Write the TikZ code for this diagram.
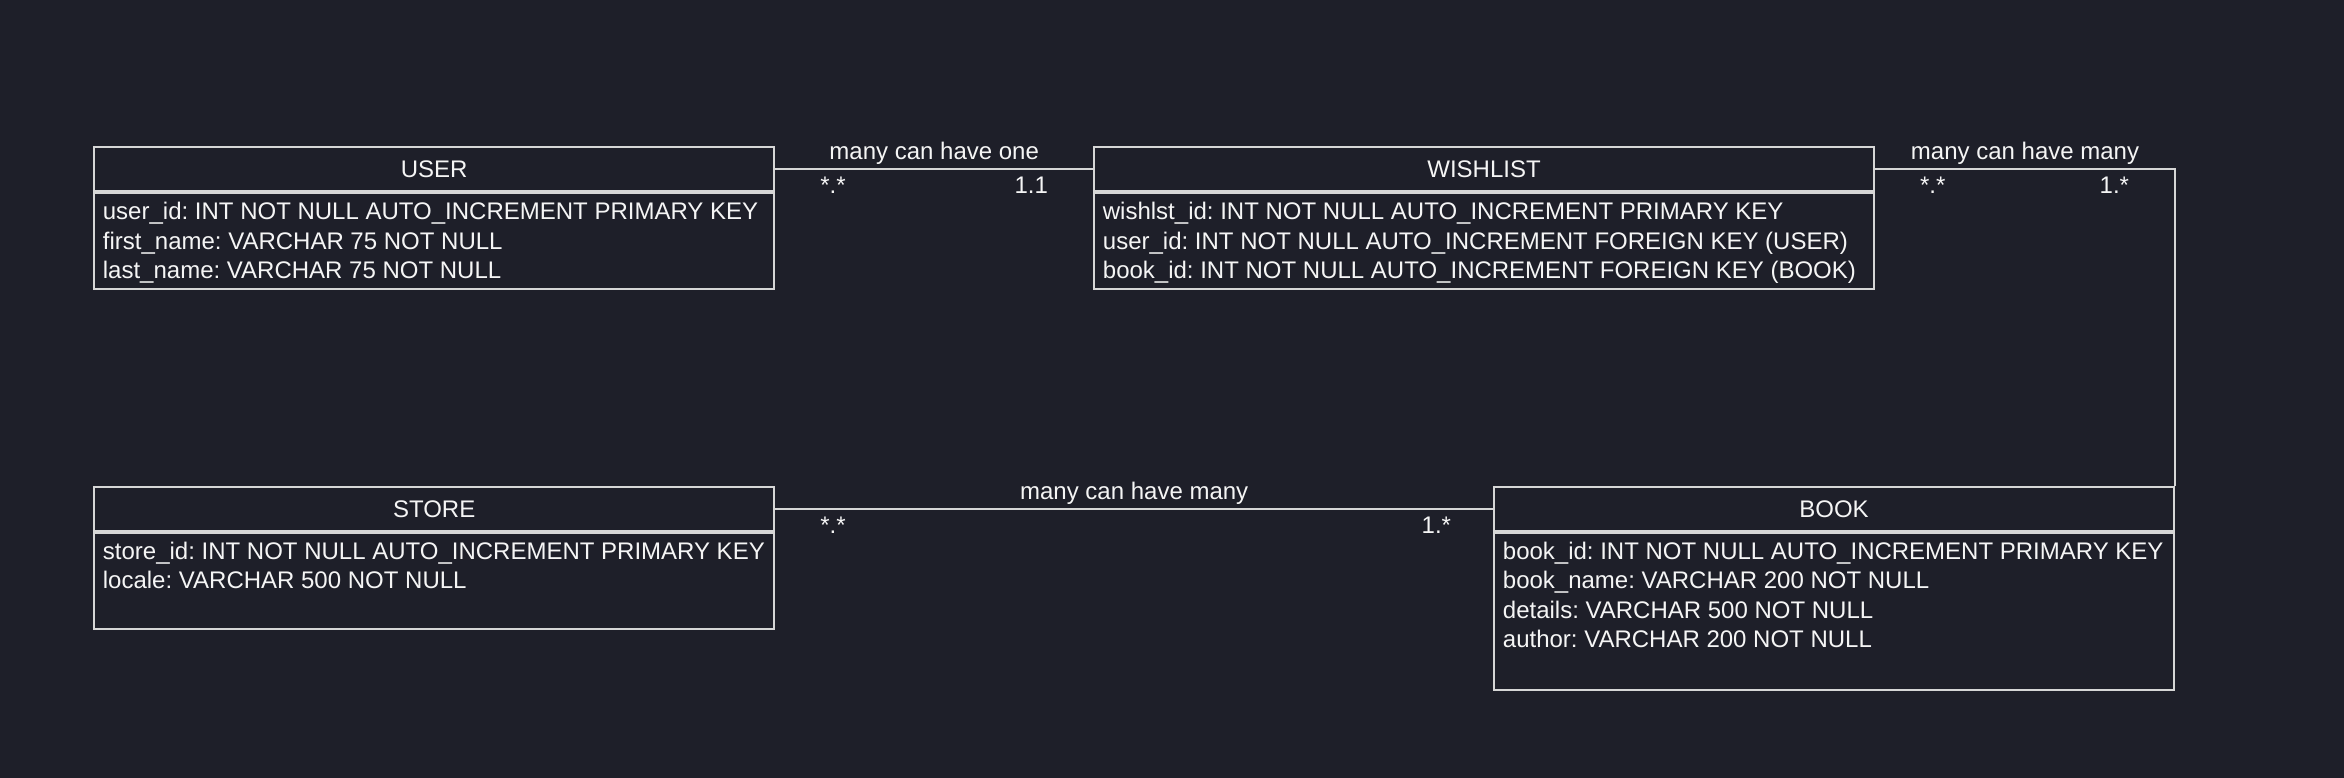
\documentclass[tikz,border=0pt]{standalone}
\usepackage{fontspec}
\setmainfont{Liberation Sans}
\definecolor{bg}{RGB}{30,31,41}
\definecolor{ln}{RGB}{214,214,214}
\definecolor{tx}{RGB}{245,245,245}
\frenchspacing
\begin{document}
\begin{tikzpicture}[x=1pt,y=-1pt,
  font=\fontsize{24}{29.5}\selectfont,
  hdr/.style={draw=ln, line width=2pt, text=tx, minimum height=44.3pt, inner sep=0pt, anchor=north west},
  bodybox/.style={draw=ln, line width=2pt, inner sep=0pt, anchor=north west},
  row/.style={text=tx, inner sep=0pt, anchor=base west},
  conn/.style={draw=ln, line width=2pt},
  lbl/.style={text=tx, inner sep=0pt}]
\fill[bg] (0,0) rectangle (2344,778);
\useasboundingbox (0,0) rectangle (2344,778);
% USER
\node[hdr, minimum width=680.4pt] (user) at (93,146) {USER};
\node[bodybox, minimum width=680.4pt, minimum height=95.5pt] (userbody) at (user.south west) {};
\node[row] (u1) at (102.7,219.5) {user\_id: INT NOT NULL AUTO\_INCREMENT PRIMARY KEY};
\node[row] (u2) at (102.7,249) {first\_name: VARCHAR 75 NOT NULL};
\node[row] (u3) at (102.7,278.5) {last\_name: VARCHAR 75 NOT NULL};
% WISHLIST
\node[hdr, minimum width=780pt] (wish) at (1093,146) {WISHLIST};
\node[bodybox, minimum width=780pt, minimum height=95.5pt] (wishbody) at (wish.south west) {};
\node[row] (w1) at (1102.7,219.5) {wishlst\_id: INT NOT NULL AUTO\_INCREMENT PRIMARY KEY};
\node[row] (w2) at (1102.7,249) {user\_id: INT NOT NULL AUTO\_INCREMENT FOREIGN KEY (USER)};
\node[row] (w3) at (1102.7,278.5) {book\_id: INT NOT NULL AUTO\_INCREMENT FOREIGN KEY (BOOK)};
% STORE
\node[hdr, minimum width=680.4pt] (store) at (93,486) {STORE};
\node[bodybox, minimum width=680.4pt, minimum height=96pt] (storebody) at (store.south west) {};
\node[row] (s1) at (102.7,559.2) {store\_id: INT NOT NULL AUTO\_INCREMENT PRIMARY KEY};
\node[row] (s2) at (102.7,588.7) {locale: VARCHAR 500 NOT NULL};
% BOOK
\node[hdr, minimum width=680pt] (book) at (1493,486) {BOOK};
\node[bodybox, minimum width=680pt, minimum height=156.6pt] (bookbody) at (book.south west) {};
\node[row] (b1) at (1502.7,559.2) {book\_id: INT NOT NULL AUTO\_INCREMENT PRIMARY KEY};
\node[row] (b2) at (1502.7,588.7) {book\_name: VARCHAR 200 NOT NULL};
\node[row] (b3) at (1502.7,618.2) {details: VARCHAR 500 NOT NULL};
\node[row] (b4) at (1502.7,647.7) {author: VARCHAR 200 NOT NULL};
% connectors
\draw[conn] (user.east) --
  node[lbl, midway, anchor=base, yshift=9.7pt] (l1) {many can have one}
  node[lbl, pos=0, anchor=base west, xshift=44pt, yshift=-24pt] (m1a) {*.*}
  node[lbl, pos=1, anchor=base east, xshift=-44pt, yshift=-24pt] (m1b) {1.1}
  (wish.west);
\draw[conn] (wish.east) -|
  node[lbl, pos=0.25, anchor=base, yshift=9.7pt] (l2) {many can have many}
  node[lbl, pos=0, anchor=base west, xshift=44pt, yshift=-24pt] (m2a) {*.*}
  node[lbl, pos=0.5, anchor=base east, xshift=-45pt, yshift=-24pt] (m2b) {1.*}
  (book.north east);
\draw[conn] (store.east) --
  node[lbl, midway, anchor=base, yshift=9.7pt] (l3) {many can have many}
  node[lbl, pos=0, anchor=base west, xshift=44pt, yshift=-24pt] (m3a) {*.*}
  node[lbl, pos=1, anchor=base east, xshift=-41pt, yshift=-24pt] (m3b) {1.*}
  (book.west);
\end{tikzpicture}
\end{document}
